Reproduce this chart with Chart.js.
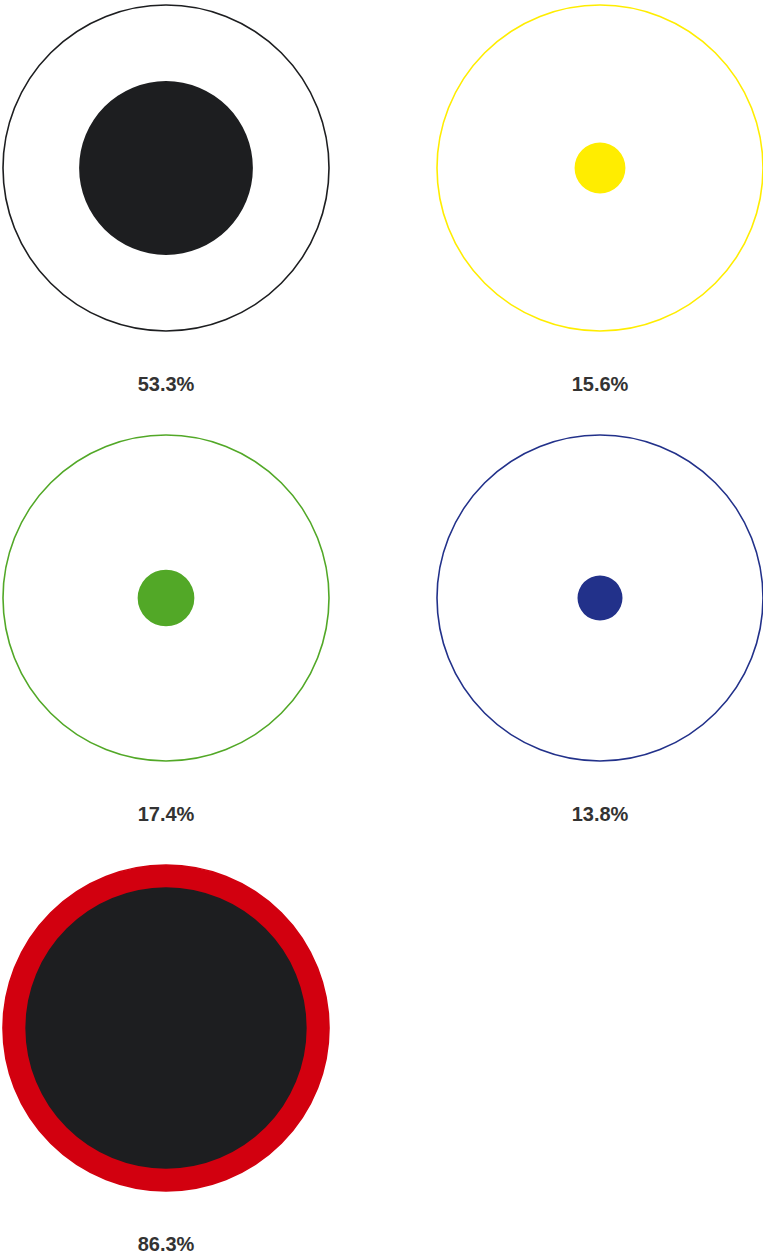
<!DOCTYPE html>
<html>
<head>
<meta charset="utf-8">
<script src="https://cdn.jsdelivr.net/npm/chart.js@4/dist/chart.umd.min.js"></script>
<style>
  html, body { margin: 0; padding: 0; background: #fff; }
  body { width: 763px; height: 1259px; position: relative; overflow: hidden; }
  .cell { position: absolute; width: 330px; height: 330px; }
  .label {
    position: absolute; width: 200px; text-align: center;
    font-family: "Liberation Sans", Arial, sans-serif; font-weight: bold;
    font-size: 20px; color: #333;
  }
</style>
</head>
<body>
<script>
// values
const shares = [53.3, 15.6, 17.4, 13.8, 86.3];
const labels = ['53.3%', '15.6%', '17.4%', '13.8%', '86.3%'];
const ringColors = ['#1d1e20', '#ffed00', '#52a827', '#22318a', '#d2000f'];
const ringFills = ['rgba(0,0,0,0)', 'rgba(0,0,0,0)', 'rgba(0,0,0,0)', 'rgba(0,0,0,0)', '#d2000f'];
const dotColors = ['#1d1e20', '#ffed00', '#52a827', '#22318a', '#1d1e20'];
const fullScale = 100;

// grid centres of each circle
const centres = [[166, 168], [600, 168], [166, 598], [600, 598], [166, 1028]];

shares.forEach(function (value, i) {
    const cell = document.createElement('div');
    cell.className = 'cell';
    cell.style.left = (centres[i][0] - 165) + 'px';
    cell.style.top = (centres[i][1] - 165) + 'px';
    const canvas = document.createElement('canvas');
    cell.appendChild(canvas);
    document.body.appendChild(cell);

    const label = document.createElement('div');
    label.className = 'label';
    label.textContent = labels[i];
    label.style.left = (centres[i][0] - 100) + 'px';
    label.style.top = (centres[i][1] + 205) + 'px';
    document.body.appendChild(label);

    new Chart(canvas.getContext('2d'), {
        type: 'polarArea',
        data: {
            labels: [labels[i]],
            datasets: [{
                // inner dot: lower index draws on top
                data: [value],
                backgroundColor: dotColors[i],
                borderWidth: 0
            }, {
                data: [fullScale],
                backgroundColor: ringFills[i],
                borderWidth: 0
            }]
        },
        options: {
            responsive: true,
            maintainAspectRatio: false,
            animation: false,
            layout: { padding: 2 },
            plugins: {
                legend: { display: false },
                tooltip: { enabled: false }
            },
            scales: {
                r: {
                    min: 0,
                    max: fullScale,
                    ticks: { display: false, stepSize: fullScale },
                    grid: { color: ringColors[i], lineWidth: 1.6 },
                    angleLines: { display: false },
                    pointLabels: { display: false }
                }
            }
        }
    });
});
</script>
</body>
</html>
